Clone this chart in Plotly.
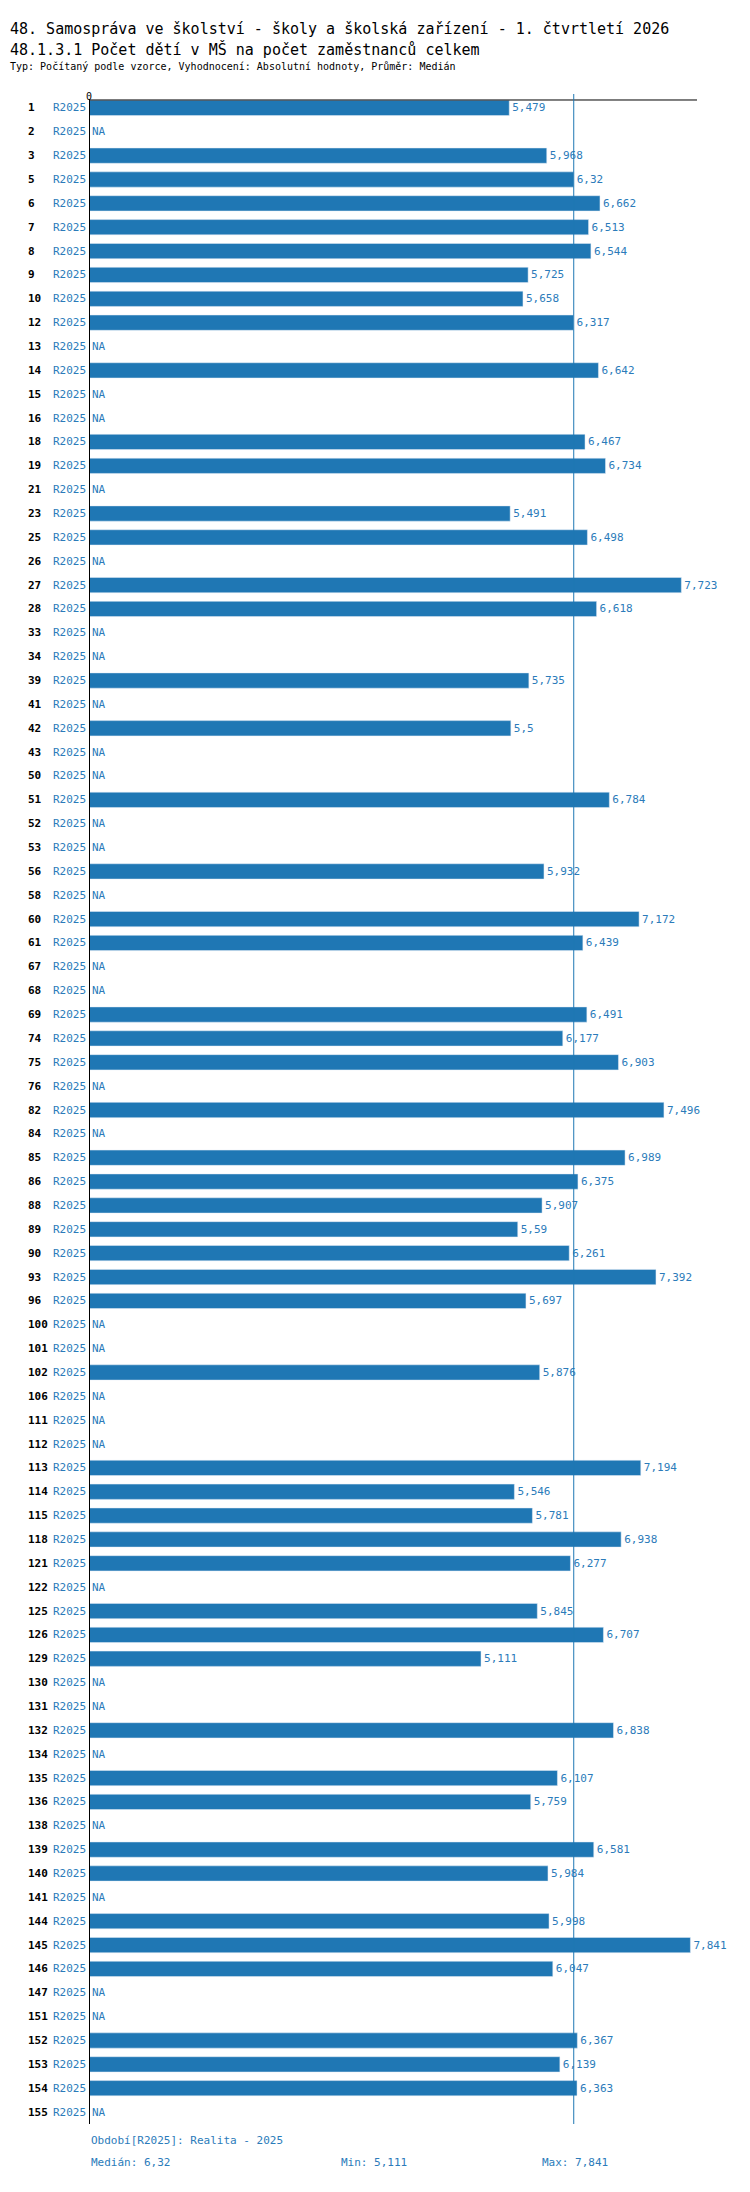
import plotly.graph_objects as go

ids = [1, 2, 3, 5, 6, 7, 8, 9, 10, 12, 13, 14, 15, 16, 18, 19, 21, 23, 25, 26, 27, 28, 33, 34,
       39, 41, 42, 43, 50, 51, 52, 53, 56, 58, 60, 61, 67, 68, 69, 74, 75, 76, 82, 84, 85, 86,
       88, 89, 90, 93, 96, 100, 101, 102, 106, 111, 112, 113, 114, 115, 118, 121, 122, 125, 126,
       129, 130, 131, 132, 134, 135, 136, 138, 139, 140, 141, 144, 145, 146, 147, 151, 152, 153,
       154, 155]
values = [5.479, None, 5.968, 6.32, 6.662, 6.513, 6.544, 5.725, 5.658, 6.317, None, 6.642, None,
          None, 6.467, 6.734, None, 5.491, 6.498, None, 7.723, 6.618, None, None, 5.735, None,
          5.5, None, None, 6.784, None, None, 5.932, None, 7.172, 6.439, None, None, 6.491,
          6.177, 6.903, None, 7.496, None, 6.989, 6.375, 5.907, 5.59, 6.261, 7.392, 5.697, None,
          None, 5.876, None, None, None, 7.194, 5.546, 5.781, 6.938, 6.277, None, 5.845, 6.707,
          5.111, None, None, 6.838, None, 6.107, 5.759, None, 6.581, 5.984, None, 5.998, 7.841,
          6.047, None, None, 6.367, 6.139, 6.363, None]
period = "R2025"
median, vmin, vmax = 6.32, 5.111, 7.841

FONT = "DejaVu Sans Mono"
BLUE = "#1f77b4"
TXT = "#2b7bba"
W, H = 750, 2192
L, T = 81, 88
n = len(ids)
row_h = 23.86
plot_h = row_h * n
B = H - T - plot_h
px_per_unit = 76.7
xmax = (W - L) / px_per_unit
pos = list(range(n))


def fmt(v):
    return ("%g" % v).replace(".", ",")


fig = go.Figure(go.Bar(
    y=pos, x=values, orientation="h", marker_color=BLUE, width=0.64,
    text=[fmt(v) if v is not None else "" for v in values], textposition="outside",
    constraintext="none", textfont=dict(family=FONT, size=11, color=TXT),
    cliponaxis=False, hoverinfo="skip",
))

ann = []
pw = W - L
for p, i, v in zip(pos, ids, values):
    ann.append(dict(x=(18 - L) / pw, xref="paper", y=p, yref="y", text="<b>%d</b>" % i,
                    showarrow=False, xanchor="left", font=dict(family=FONT, size=11, color="black")))
    ann.append(dict(x=-1 / pw, xref="paper", y=p, yref="y", text=period, showarrow=False,
                    xanchor="right", font=dict(family=FONT, size=11, color=TXT)))
    if v is None:
        ann.append(dict(x=1 / pw, xref="paper", y=p, yref="y", text="NA", showarrow=False,
                        xanchor="left", font=dict(family=FONT, size=11, color=TXT)))


def py(pix):
    # pixel from top -> paper y
    return (H - B - pix) / plot_h


ann += [
    dict(x=-L / pw, xref="paper", y=py(10), yref="paper", xanchor="left", showarrow=False,
         text="48. Samospráva ve školství - školy a školská zařízení - 1. čtvrtletí 2026",
         font=dict(family=FONT, size=15, color="black")),
    dict(x=-L / pw, xref="paper", y=py(30), yref="paper", xanchor="left", showarrow=False,
         text="48.1.3.1 Počet dětí v MŠ na počet zaměstnanců celkem",
         font=dict(family=FONT, size=15, color="black")),
    dict(x=-L / pw, xref="paper", y=py(51), yref="paper", xanchor="left", showarrow=False,
         text="Typ: Počítaný podle vzorce, Vyhodnocení: Absolutní hodnoty, Průměr: Medián",
         font=dict(family=FONT, size=10, color="black")),
    dict(x=0, xref="paper", y=py(81), yref="paper", xanchor="center", showarrow=False,
         text="0", font=dict(family=FONT, size=10, color="black")),
    dict(x=0, xref="paper", y=py(2141), yref="paper", xanchor="left", showarrow=False,
         text="Období[%s]: Realita - 2025" % period, font=dict(family=FONT, size=11, color=TXT)),
    dict(x=0, xref="paper", y=py(2163), yref="paper", xanchor="left", showarrow=False,
         text="Medián: %s" % fmt(median), font=dict(family=FONT, size=11, color=TXT)),
    dict(x=(331 - L) / pw, xref="paper", y=py(2163), yref="paper", xanchor="left", showarrow=False,
         text="Min: %s" % fmt(vmin), font=dict(family=FONT, size=11, color=TXT)),
    dict(x=(532 - L) / pw, xref="paper", y=py(2163), yref="paper", xanchor="left", showarrow=False,
         text="Max: %s" % fmt(vmax), font=dict(family=FONT, size=11, color=TXT)),
]

shapes = [
    dict(type="line", xref="x", yref="paper", x0=0, x1=0, y0=0, y1=py(91), line=dict(color="black", width=2)),
    dict(type="line", xref="x", yref="paper", x0=-0.03, x1=(689 - L) / px_per_unit, y0=py(92), y1=py(92),
         line=dict(color="black", width=1)),
    dict(type="line", xref="x", yref="paper", x0=median, x1=median, y0=0, y1=py(86),
         line=dict(color=BLUE, width=1)),
]

fig.update_layout(
    width=W, height=H, margin=dict(l=L, r=0, t=T, b=B), plot_bgcolor="white", paper_bgcolor="white",
    showlegend=False, annotations=ann, shapes=shapes,
    xaxis=dict(range=[0, xmax], showgrid=False, zeroline=False, showticklabels=False, fixedrange=True),
    yaxis=dict(range=[n - 0.5, -0.5], showticklabels=False, showgrid=False, zeroline=False),
)
fig.write_html("out.html")
